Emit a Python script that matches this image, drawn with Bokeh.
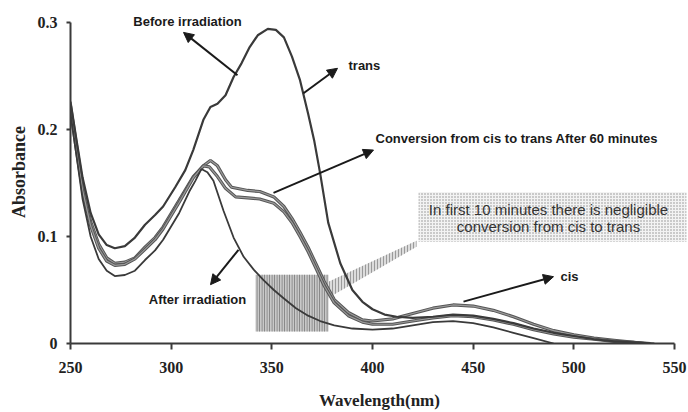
from bokeh.plotting import figure
from bokeh.embed import file_html
from bokeh.resources import INLINE
from bokeh.models import (Arrow, NormalHead, Label, BoxAnnotation, PolyAnnotation,
                          FixedTicker, CustomJSTickFormatter, Range1d)

# ---------------- data ----------------
wl_before = [250, 253, 256, 260, 264, 268, 272, 277, 282, 287, 292, 296, 302, 307, 311, 316,
             319.5, 323, 327, 331, 335, 339, 343, 348, 352, 356, 360, 364, 368, 371, 374, 378,
             384, 390, 395, 400, 406, 412, 420, 430, 440, 450, 460, 470, 480, 490, 500, 510,
             520, 530, 540]
abs_before = [0.226, 0.19, 0.155, 0.122, 0.102, 0.092, 0.089, 0.091, 0.099, 0.111, 0.12, 0.128,
              0.146, 0.162, 0.181, 0.209, 0.221, 0.224, 0.232, 0.249, 0.262, 0.277, 0.288,
              0.294, 0.293, 0.286, 0.268, 0.246, 0.215, 0.19, 0.159, 0.113, 0.075, 0.05, 0.039,
              0.032, 0.027, 0.025, 0.024, 0.025, 0.027, 0.026, 0.023, 0.019, 0.014, 0.01, 0.007,
              0.004, 0.002, 0.001, 0.0]

wl_10min = [250, 253, 256, 260, 264, 268, 272, 277, 282, 287, 292, 296, 304, 311, 316, 319.5,
            323, 327, 330, 338, 344, 351, 356, 360, 364, 368, 372, 376, 381, 388, 395, 400, 410,
            420, 430, 440, 450, 460, 470, 480, 490, 500, 510, 520, 530, 538]
abs_10min = [0.222, 0.185, 0.148, 0.114, 0.093, 0.08, 0.075, 0.076, 0.08, 0.09, 0.099, 0.109,
             0.134, 0.156, 0.166, 0.171, 0.166, 0.153, 0.146, 0.143, 0.142, 0.137, 0.128, 0.117,
             0.104, 0.09, 0.074, 0.058, 0.041, 0.029, 0.022, 0.021, 0.023, 0.028, 0.033, 0.036,
             0.035, 0.031, 0.025, 0.018, 0.012, 0.008, 0.005, 0.003, 0.001, 0.0]

wl_60min = [250, 253, 256, 260, 264, 268, 272, 277, 282, 287, 292, 296, 304, 311, 316, 319,
            323, 327, 332, 338, 344, 351, 356, 360, 364, 368, 372, 376, 381, 388, 395, 400, 410,
            420, 430, 440, 450, 460, 470, 480, 490, 500, 510, 520, 530, 535]
abs_60min = [0.218, 0.18, 0.143, 0.11, 0.089, 0.077, 0.073, 0.074, 0.079, 0.088, 0.097, 0.107,
             0.132, 0.155, 0.166, 0.165, 0.156, 0.145, 0.137, 0.136, 0.135, 0.131, 0.123, 0.113,
             0.1, 0.086, 0.07, 0.054, 0.038, 0.026, 0.02, 0.018, 0.018, 0.021, 0.024, 0.026,
             0.025, 0.022, 0.018, 0.013, 0.009, 0.006, 0.004, 0.002, 0.001, 0.0]

wl_after = [250, 253, 256, 260, 264, 268, 272, 277, 282, 287, 292, 296, 304, 309, 312, 315, 318,
            321, 326, 331, 336, 341, 346, 351, 356, 362, 368, 374, 381, 390, 400, 410, 420, 430,
            440, 450, 460, 470, 480, 490]
abs_after = [0.215, 0.175, 0.135, 0.1, 0.079, 0.068, 0.063, 0.064, 0.068, 0.078, 0.087, 0.097,
             0.122, 0.142, 0.152, 0.163, 0.16, 0.152, 0.124, 0.099, 0.081, 0.069, 0.059, 0.05,
             0.042, 0.033, 0.026, 0.021, 0.017, 0.014, 0.013, 0.014, 0.017, 0.02, 0.021, 0.019,
             0.015, 0.01, 0.005, 0.0]

x_ticks = [250, 300, 350, 400, 450, 500, 550]
y_ticks = [0, 0.1, 0.2, 0.3]

# ---------------- layout helpers (page pixel -> data) ----------------
def X(px):
    return 250 + (px - 70) * 300 / 604

def Y(py):
    return (344 - py) * 0.3 / 322

p = figure(width=688, height=412, output_backend="svg", toolbar_location=None, title=None,
           x_range=Range1d(250, X(688)), y_range=Range1d(0, Y(0)),
           min_border_left=70, min_border_right=0, min_border_top=0, min_border_bottom=68)
p.outline_line_color = None
p.grid.visible = False
p.background_fill_color = "white"

for ax in (p.xaxis, p.yaxis):
    ax.axis_line_width = 2
    ax.axis_line_color = "#3a3a3a"
    ax.major_tick_line_color = "#3a3a3a"
    ax.major_tick_line_width = 2
    ax.major_tick_in = 0
    ax.minor_tick_line_color = None
    ax.major_label_text_font = "Liberation Serif"
    ax.major_label_text_font_style = "bold"
    ax.major_label_text_font_size = "16px"
    ax.major_label_text_color = "#222222"
    ax.axis_label_text_font = "Liberation Serif"
    ax.axis_label_text_font_style = "bold"
    ax.axis_label_text_color = "#222222"

p.xaxis.bounds = (250, 550)
p.yaxis.bounds = (0, 0.3)
p.xaxis.ticker = FixedTicker(ticks=x_ticks)
p.yaxis.ticker = FixedTicker(ticks=y_ticks)
p.yaxis.formatter = CustomJSTickFormatter(code="return tick == 0 ? '0' : tick.toFixed(1);")
p.xaxis.major_tick_out = 6
p.yaxis.major_tick_out = 4
p.xaxis.major_label_standoff = 12
p.yaxis.major_label_standoff = 9
p.xaxis.axis_label = "Wavelength(nm)"
p.yaxis.axis_label = "Absorbance"
p.xaxis.axis_label_text_font_size = "17px"
p.yaxis.axis_label_text_font_size = "18px"
p.xaxis.axis_label_standoff = 15
p.yaxis.axis_label_standoff = 6

# ---------------- shaded callouts (under the curves) ----------------
p.add_layout(BoxAnnotation(left=X(418), right=X(686), bottom=Y(242), top=Y(192),
                           fill_color="#f3f3f3", fill_alpha=1, line_color=None,
                           hatch_pattern="dot", hatch_color="#8c8c8c", hatch_scale=3,
                           hatch_weight=1, level="underlay"))
p.add_layout(BoxAnnotation(left=X(255), right=X(328), bottom=Y(332), top=Y(275),
                           fill_color="#c8c8c8", fill_alpha=1, line_color=None,
                           hatch_pattern="vertical_line", hatch_color="#7a7a7a", hatch_scale=2.5,
                           hatch_weight=1, level="underlay"))
p.add_layout(PolyAnnotation(xs=[X(328), X(416), X(416), X(328)],
                            ys=[Y(282), Y(241), Y(247), Y(298)],
                            fill_color="#dcdcdc", fill_alpha=1, line_color=None,
                            hatch_pattern="vertical_line", hatch_color="#9a9a9a", hatch_scale=3,
                            hatch_weight=1, level="underlay"))

# ---------------- curves ----------------
p.line(wl_10min, abs_10min, line_color="#555555", line_width=3.2)
p.line(wl_10min, abs_10min, line_color="#9a9a9a", line_width=1.2)
p.line(wl_60min, abs_60min, line_color="#555555", line_width=3.2)
p.line(wl_60min, abs_60min, line_color="#9a9a9a", line_width=1.2)
p.line(wl_after, abs_after, line_color="#3a3a3a", line_width=1.8)
p.line(wl_before, abs_before, line_color="#3a3a3a", line_width=2.2)

# ---------------- text annotations ----------------
def lab(txt, px, py, align="left", size="13px", style="bold", color="#1a1a1a"):
    p.add_layout(Label(x=X(px), y=Y(py), text=txt, text_align=align, text_baseline="middle",
                       text_font="Liberation Sans", text_font_style=style,
                       text_font_size=size, text_color=color))

def arr(x0, y0, x1, y1):
    p.add_layout(Arrow(x_start=X(x0), y_start=Y(y0), x_end=X(x1), y_end=Y(y1),
                       line_width=2, line_color="#1a1a1a",
                       end=NormalHead(size=10, fill_color="#1a1a1a", line_color="#1a1a1a")))

lab("Before irradiation", 187, 21, align="center")
arr(237, 75, 183, 32)
lab("trans", 348, 65)
arr(303, 93, 337, 68)
lab("Conversion from cis to trans After 60 minutes", 375, 138)
arr(273, 193, 373, 150)
lab("After irradiation", 197, 300, align="center")
arr(238, 250, 210, 285)
lab("cis", 560, 277)
arr(463, 302, 553, 277)
lab("In first 10 minutes there is negligible", 548, 210, align="center", size="15px",
    style="normal", color="#333333")
lab("conversion from cis to trans", 548, 227, align="center", size="15px",
    style="normal", color="#333333")

open("out.html", "w").write(file_html(p, INLINE))
